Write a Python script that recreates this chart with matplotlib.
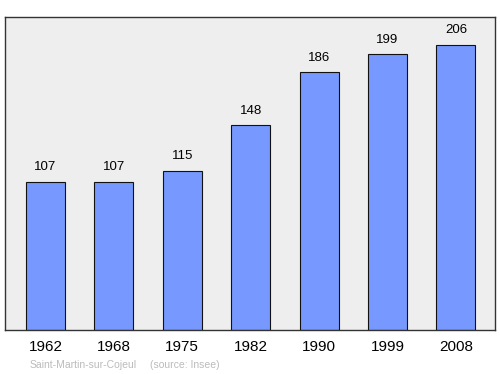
import matplotlib.pyplot as plt
import numpy as np

plt.rcParams['font.family'] = ['Liberation Sans', 'DejaVu Sans']

years = ['1962', '1968', '1975', '1982', '1990', '1999', '2008']
population = [107, 107, 115, 148, 186, 199, 206]

fig = plt.figure(figsize=(5, 3.74), dpi=100)
# axes box in pixels: left 5, right 495, top 17, bottom 330
ax = fig.add_axes([5 / 500, 1 - 330 / 374, 490 / 500, 313 / 374])
ax.set_facecolor('#eeeeee')

x = np.arange(len(years))
ax.bar(x, population, width=0.57, color='#7799ff', edgecolor='#111111',
       linewidth=0.8)
for xi, val in zip(x, population):
    ax.text(xi, val + 6, str(val), ha='center', va='bottom', fontsize=9.5)

ax.set_xlim(-0.59, 6.57)
ax.set_ylim(0, 226)
ax.set_yticks([])
ax.set_xticks(x, years, fontsize=11)
ax.tick_params(axis='x', length=0, pad=7.5)
for s in ax.spines.values():
    s.set_color('#333333')
    s.set_linewidth(1)

fig.text(30 / 500, 1 - 365 / 374, 'Saint-Martin-sur-Cojeul', color='#bbbbbb',
         fontsize=7.5, va='center')
fig.text(150 / 500, 1 - 365 / 374, '(source: Insee)', color='#bbbbbb',
         fontsize=7.5, va='center')

plt.savefig('out.png', dpi=100)
